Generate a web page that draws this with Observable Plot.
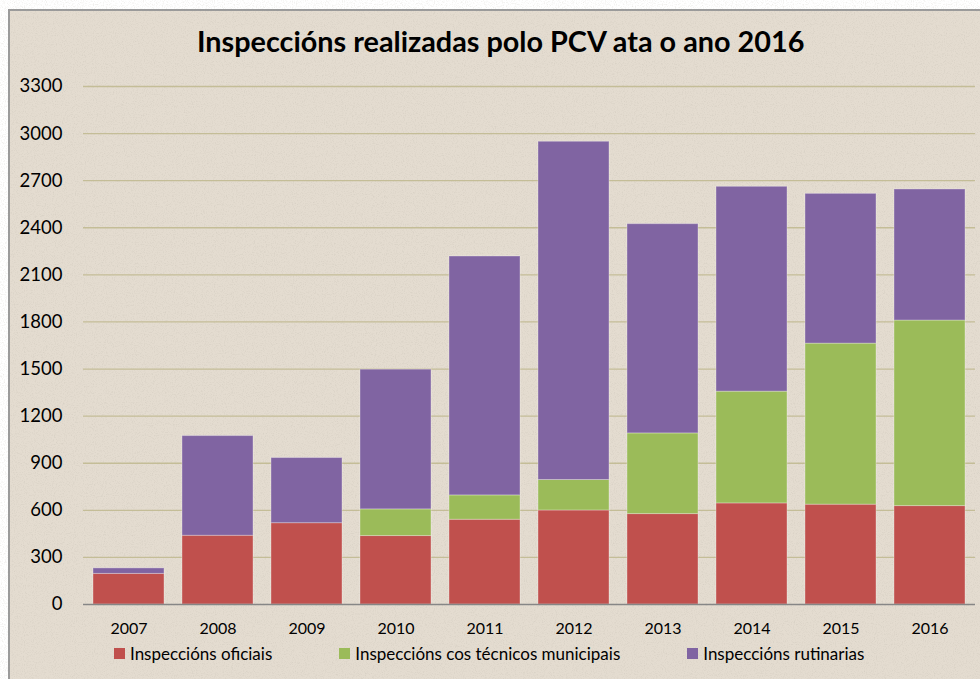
<!DOCTYPE html>
<html>
<head>
<meta charset="utf-8">
<script src="https://cdn.jsdelivr.net/npm/d3@7"></script>
<script src="https://cdn.jsdelivr.net/npm/@observablehq/plot@0.6"></script>
<style>
  html, body { margin: 0; padding: 0; background: #ffffff; }
  body { width: 980px; height: 679px; position: relative; overflow: hidden; font-family: "Lato", sans-serif; }
  #frame { position: absolute; left: 8px; top: 9px; width: 990px; height: 690px; background: #E4DCD0; border-left: 2px solid #9a9a9a; border-top: 2px solid #9a9a9a; box-sizing: border-box; }
  #noise { position: absolute; left: 0; top: 0; }
  #chart { position: absolute; left: 0; top: 0; }
  #title { position: absolute; left: 197px; top: 24px; font-weight: 700; font-size: 28.8px; color: #000; white-space: nowrap; }
  #legend { position: absolute; left: 114px; top: 643px; display: flex; gap: 67px; font-size: 17px; color: #000; white-space: nowrap; }
  .item { display: flex; align-items: center; }
  .sw { width: 11px; height: 11px; margin-right: 5px; }
</style>
</head>
<body>
<div id="frame"></div>
<svg id="noise" width="980" height="679">
  <filter id="grain">
    <feTurbulence type="fractalNoise" baseFrequency="0.9" numOctaves="2" seed="4"/>
    <feColorMatrix type="matrix" values="0 0 0 0 0.45  0 0 0 0 0.42  0 0 0 0 0.36  0 0 0 1.6 -0.75"/>
  </filter>
  <rect x="10" y="11" width="970" height="668" filter="url(#grain)" opacity="0.35"/>
</svg>
<div id="chart"></div>
<div id="title">Inspeccións realizadas polo PCV ata o ano 2016</div>
<div id="legend"></div>
<script>
const years = ["2007", "2008", "2009", "2010", "2011", "2012", "2013", "2014", "2015", "2016"];
const oficiais   = [195, 438, 518, 436, 540, 599, 576, 644, 636, 627];
const tecnicos   = [0, 0, 0, 170, 155, 194, 514, 712, 1026, 1182];
const rutinarias = [35, 635, 415, 890, 1522, 2155, 1333, 1305, 954, 835];
const seriesNames = ["Inspeccións oficiais", "Inspeccións cos técnicos municipais", "Inspeccións rutinarias"];
const seriesColors = ["#C0504D", "#9BBB59", "#8064A2"];
const yTicks = [0, 300, 600, 900, 1200, 1500, 1800, 2100, 2400, 2700, 3000, 3300];

const seriesValues = [oficiais, tecnicos, rutinarias];
const data = [];
years.forEach((yr, i) => {
  seriesNames.forEach((s, j) => data.push({year: yr, series: s, value: seriesValues[j][i]}));
});

const chart = Plot.plot({
  width: 980,
  height: 679,
  marginLeft: 83,
  marginRight: 5,
  marginTop: 86,
  marginBottom: 75,
  style: {fontFamily: "Lato, sans-serif", color: "#000", background: "transparent", overflow: "visible"},
  x: {domain: years, paddingInner: 0.2, paddingOuter: 0.1, axis: null, label: null},
  y: {domain: [0, 3300], axis: null, label: null},
  color: {domain: seriesNames, range: seriesColors},
  marks: [
    Plot.ruleY(yTicks.filter(d => d > 0), {stroke: "#C4BD97", strokeWidth: 1.3}),
    Plot.barY(data, {x: "year", y: "value", fill: "series", stroke: "#ffffff", strokeOpacity: 0.3, strokeWidth: 1}),
    Plot.ruleY([0], {stroke: "#868686", strokeWidth: 1.5}),
    Plot.axisX({tickSize: 0, tickPadding: 18, fontSize: 16, label: null}),
    Plot.axisY({ticks: yTicks, tickSize: 0, tickPadding: 21, fontSize: 18.5, label: null, tickFormat: d => String(d)})
  ]
});
document.getElementById("chart").appendChild(chart);

const legend = document.getElementById("legend");
seriesNames.forEach((s, j) => {
  const it = document.createElement("div");
  it.className = "item";
  const sw = document.createElement("div");
  sw.className = "sw";
  sw.style.background = seriesColors[j];
  const t = document.createElement("span");
  t.textContent = s;
  it.appendChild(sw);
  it.appendChild(t);
  legend.appendChild(it);
});
</script>
</body>
</html>
